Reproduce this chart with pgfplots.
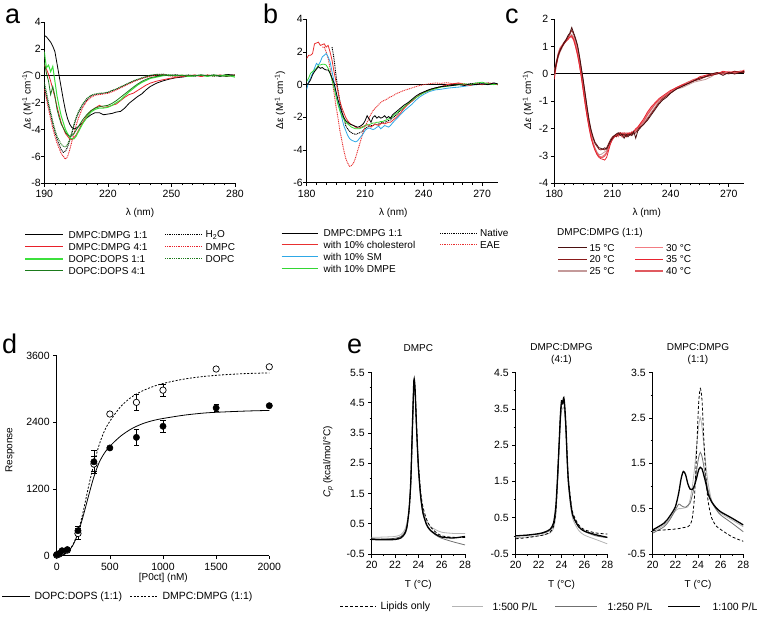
\documentclass[border=0pt]{standalone}
\usepackage{fontspec}
\setmainfont{Liberation Sans}
\usepackage{pgfplots}
\usepackage{pgfplotstable}
\pgfplotsset{compat=1.18}

\definecolor{aRed}{HTML}{E8202A}
\definecolor{aLime}{HTML}{3CE03C}
\definecolor{aDkGreen}{HTML}{1B7A1B}
\definecolor{bRed}{HTML}{E83030}
\definecolor{bBlue}{HTML}{2EA8E6}
\definecolor{bGreen}{HTML}{33D633}
\definecolor{cA}{HTML}{4A1010}
\definecolor{cB}{HTML}{8B1A1A}
\definecolor{cC}{HTML}{C49A9A}
\definecolor{cD}{HTML}{F27C82}
\definecolor{cE}{HTML}{E8232F}
\definecolor{cF}{HTML}{E05A60}
\definecolor{eLight}{HTML}{B4B4B4}
\definecolor{eMid}{HTML}{707070}

\newcommand{\lgf}{\fontsize{10}{12}\selectfont}
\newcommand{\lgdf}{\fontsize{10.5}{12}\selectfont}
\newcommand{\panelfont}{\fontsize{27}{30}\selectfont}

\pgfplotstableread{
x k11 r41 g11 g41 h2o dmpc dopc
190 3.0 0.8 1.8 1.0 -0.8 -1.0 -0.5
191 2.9 0.5 0.6 0.2 -1.5 -1.7 -1.2
192 2.7 0.1 0.8 -0.4 -2.2 -2.5 -2.0
193 2.5 -0.4 0.3 -1.4 -2.9 -3.2 -2.7
194 2.2 -1.0 0.7 -0.8 -3.6 -3.9 -3.4
195 1.8 -1.6 -0.4 -1.5 -4.2 -4.5 -4.0
196 0.9 -2.3 -1.5 -2.5 -4.7 -5.0 -4.5
197 0.0 -2.9 -2.3 -3.1 -5.1 -5.4 -4.8
198 -0.9 -3.5 -3.0 -3.6 -5.5 -5.8 -5.1
199 -1.8 -3.9 -3.5 -3.9 -5.7 -6.0 -5.25
200 -2.6 -4.3 -4.0 -4.2 -5.6 -6.2 -5.3
201 -3.2 -4.5 -4.3 -4.4 -5.3 -6.0 -5.1
202 -3.6 -4.7 -4.6 -4.5 -4.8 -5.5 -4.7
203 -3.85 -4.75 -4.7 -4.45 -4.3 -4.9 -4.2
204 -3.95 -4.6 -4.7 -4.3 -3.7 -4.3 -3.6
205 -3.9 -4.4 -4.5 -4.05 -3.2 -3.7 -3.1
206 -3.8 -4.1 -4.2 -3.8 -2.8 -3.2 -2.7
208 -3.5 -3.5 -3.6 -3.3 -2.2 -2.4 -2.1
210 -3.15 -3.0 -3.1 -2.9 -1.8 -1.9 -1.7
212 -2.9 -2.6 -2.7 -2.6 -1.5 -1.6 -1.45
214 -2.75 -2.4 -2.5 -2.4 -1.4 -1.45 -1.35
216 -2.75 -2.2 -2.4 -2.3 -1.35 -1.4 -1.3
218 -2.9 -2.35 -2.4 -2.25 -1.3 -1.35 -1.28
220 -2.85 -2.3 -2.35 -2.2 -1.25 -1.3 -1.22
222 -2.8 -2.2 -2.2 -2.05 -1.1 -1.2 -1.1
224 -2.7 -2.1 -2.0 -1.85 -1.0 -1.05 -0.98
226 -2.65 -1.85 -1.8 -1.6 -0.85 -0.9 -0.82
228 -2.4 -1.6 -1.5 -1.35 -0.7 -0.75 -0.68
230 -2.05 -1.4 -1.2 -1.1 -0.55 -0.6 -0.52
232 -1.8 -1.3 -0.95 -0.85 -0.4 -0.45 -0.38
234 -1.55 -1.1 -0.7 -0.62 -0.3 -0.32 -0.26
236 -1.35 -0.9 -0.5 -0.42 -0.2 -0.2 -0.15
238 -1.05 -0.7 -0.35 -0.27 -0.1 -0.1 -0.05
240 -0.8 -0.55 -0.2 -0.15 0.0 -0.05 0.05
243 -0.55 -0.4 -0.1 -0.05 0.1 0.05 0.1
246 -0.38 -0.3 0.0 0.05 0.12 0.08 0.08
249 -0.25 -0.2 0.05 0.0 0.05 0.0 0.05
252 -0.15 -0.12 0.0 0.05 0.08 -0.05 0.0
255 -0.1 -0.05 0.05 0.0 0.0 0.05 0.03
258 -0.03 0.0 -0.05 0.05 0.05 0.0 -0.05
261 0.0 0.05 0.0 0.0 -0.03 0.05 0.05
264 0.05 -0.05 0.05 0.05 0.05 -0.05 0.0
267 0.0 0.05 -0.05 0.0 0.0 0.05 0.05
270 0.05 0.0 0.05 0.05 0.05 0.0 -0.05
273 -0.05 0.05 0.0 0.0 0.0 0.05 0.05
276 0.1 0.0 0.05 -0.05 0.05 -0.05 0.0
280 0.05 0.05 -0.1 0.05 0.0 0.05 0.0
}\tabA

\pgfplotstableread{
x k chol sm dmpe nat eae
180 0.0 1.6 -0.3 0.2 nan nan
181 0.1 1.8 0.2 0.4 nan nan
182 0.3 1.8 0.4 0.7 nan nan
183 0.6 1.9 0.7 0.8 nan nan
184 0.8 2.5 1.0 0.9 nan nan
185 0.95 2.55 1.3 1.0 nan nan
186 1.1 2.6 1.2 1.2 nan nan
187 1.0 2.4 1.4 1.2 nan nan
188 1.05 2.45 1.7 1.25 nan 2.3
189 0.95 2.5 1.8 1.25 nan 2.3
190 0.9 2.3 1.9 1.2 nan 2.0
191 0.9 2.4 1.7 1.0 nan 1.6
192 0.7 2.0 1.4 0.7 nan 1.0
193 0.4 1.5 0.8 0.3 2.3 0.3
194 0.1 0.8 0.2 -0.2 1.6 -0.5
195 -0.4 0.2 -0.5 -0.7 0.6 -1.3
196 -0.9 -0.4 -1.0 -1.2 -0.3 -2.0
197 -1.3 -1.0 -1.5 -1.6 -1.0 -2.8
198 -1.7 -1.4 -2.0 -1.9 -1.6 -3.4
199 -2.0 -1.7 -2.5 -2.1 -2.0 -4.0
200 -2.2 -2.0 -2.8 -2.3 -2.5 -4.5
201 -2.3 -2.2 -3.1 -2.4 -2.7 -4.8
202 -2.4 -2.35 -3.3 -2.5 -2.85 -5.0
203 -2.45 -2.45 -3.4 -2.6 -2.95 -4.95
204 -2.5 -2.5 -3.45 -2.65 -3.0 -4.8
205 -2.55 -2.6 -3.5 -2.7 -3.05 -4.5
206 -2.6 -2.65 -3.45 -2.7 -3.0 -4.1
207 -2.57 -2.65 -3.3 -2.7 -2.95 -3.7
208 -2.5 -2.6 -3.15 -2.65 -2.9 -3.3
209 -2.4 -2.55 -3.0 -2.6 -2.8 -2.9
210 -2.2 -2.5 -2.8 -2.5 -2.7 -2.55
211 -1.9 -2.45 -2.7 -2.45 -2.6 -2.3
212 -2.1 -2.5 -2.65 -2.45 -2.55 -2.05
213 -2.3 -2.6 -2.7 -2.4 -2.5 -1.8
214 -2.0 -2.5 -2.75 -2.35 -2.5 -1.6
215 -1.9 -2.4 -2.7 -2.35 -2.45 -1.45
216 -2.05 -2.45 -2.6 -2.3 -2.45 -1.35
217 -1.95 -2.5 -2.55 -2.3 -2.4 -1.2
218 -2.05 -2.4 -2.7 -2.25 -2.35 -1.1
219 -2.0 -2.35 -2.6 -2.25 -2.3 -1.0
220 -1.9 -2.4 -2.5 -2.2 -2.3 -0.95
221 -2.05 -2.35 -2.55 -2.15 -2.25 -0.9
222 -1.95 -2.3 -2.6 -2.1 -2.2 -0.8
223 -2.05 -2.3 -2.5 -2.05 -2.15 -0.75
224 -1.85 -2.2 -2.35 -1.95 -2.05 -0.7
226 -1.65 -2.0 -2.1 -1.75 -1.85 -0.55
228 -1.45 -1.75 -1.85 -1.55 -1.6 -0.45
230 -1.25 -1.45 -1.6 -1.35 -1.4 -0.35
232 -1.1 -1.2 -1.4 -1.15 -1.2 -0.28
234 -0.9 -1.0 -1.2 -0.95 -1.0 -0.2
236 -0.7 -0.8 -0.95 -0.8 -0.8 -0.12
238 -0.55 -0.62 -0.75 -0.65 -0.6 -0.05
240 -0.45 -0.5 -0.6 -0.5 -0.45 0.0
243 -0.3 -0.35 -0.42 -0.35 -0.3 0.05
246 -0.2 -0.22 -0.32 -0.25 -0.2 0.1
249 -0.12 -0.12 -0.28 -0.15 -0.12 0.08
252 -0.08 0.0 -0.22 -0.1 -0.05 0.12
255 -0.05 0.05 -0.18 -0.05 0.0 0.05
258 0.0 0.1 -0.15 0.0 0.05 0.1
261 -0.05 0.0 -0.1 0.05 0.0 0.05
264 0.05 -0.05 -0.05 0.0 0.05 0.0
267 0.0 0.05 0.0 0.1 0.1 0.05
270 0.05 0.0 0.05 0.15 0.05 0.0
273 0.0 0.1 0.0 0.05 0.1 0.05
276 0.1 0.05 0.1 0.0 0.05 0.1
278 0.05 0.0 0.05 0.05 0.0 0.05
}\tabB

\pgfplotstableread{
x t15 t20 t25 t30 t35 t40
180 0.0 0.05 -0.1 0.0 -0.2 0.1
181 0.4 0.35 0.3 0.45 0.3 0.4
182 0.7 0.65 0.6 0.7 0.65 0.75
183 0.85 0.9 0.8 0.9 0.85 0.95
184 1.0 1.0 0.95 1.0 1.0 1.05
185 1.15 1.1 1.1 1.15 1.1 1.15
186 1.25 1.2 1.2 1.2 1.2 1.25
187 1.4 1.35 1.3 1.3 1.25 1.3
188 1.5 1.45 1.4 1.35 1.35 1.35
189 1.7 1.6 1.45 1.4 1.4 1.35
190 1.5 1.45 1.35 1.3 1.25 1.25
191 1.3 1.25 1.15 1.1 1.0 1.0
192 1.05 1.0 0.85 0.8 0.7 0.7
193 0.65 0.6 0.45 0.4 0.3 0.35
194 0.2 0.15 0.0 -0.05 -0.15 -0.1
195 -0.25 -0.3 -0.5 -0.55 -0.65 -0.6
196 -0.75 -0.8 -1.0 -1.05 -1.15 -1.1
197 -1.25 -1.3 -1.45 -1.5 -1.6 -1.55
198 -1.7 -1.75 -1.85 -1.9 -2.0 -1.95
199 -2.05 -2.1 -2.2 -2.25 -2.35 -2.3
200 -2.3 -2.35 -2.5 -2.55 -2.6 -2.55
201 -2.5 -2.55 -2.7 -2.75 -2.8 -2.75
202 -2.6 -2.65 -2.85 -2.9 -2.95 -2.9
203 -2.7 -2.75 -2.95 -3.0 -3.05 -3.0
204 -2.72 -2.78 -2.95 -3.05 -3.1 -3.05
205 -2.75 -2.75 -2.9 -3.0 -3.12 -3.05
206 -2.7 -2.78 -2.85 -2.95 -3.15 -3.0
207 -2.75 -2.7 -2.8 -2.85 -3.05 -2.9
208 -2.6 -2.55 -2.65 -2.7 -2.8 -2.7
209 -2.45 -2.4 -2.5 -2.5 -2.55 -2.5
210 -2.35 -2.3 -2.4 -2.35 -2.4 -2.35
211 -2.25 -2.25 -2.3 -2.3 -2.3 -2.3
212 -2.2 -2.3 -2.25 -2.2 -2.25 -2.2
213 -2.15 -2.2 -2.2 -2.3 -2.2 -2.25
214 -2.25 -2.15 -2.25 -2.2 -2.15 -2.2
215 -2.2 -2.25 -2.15 -2.15 -2.2 -2.3
216 -2.35 -2.2 -2.25 -2.25 -2.2 -2.15
217 -2.2 -2.3 -2.2 -2.15 -2.3 -2.2
218 -2.3 -2.2 -2.2 -2.2 -2.15 -2.25
219 -2.2 -2.25 -2.15 -2.25 -2.2 -2.15
220 -2.25 -2.15 -2.25 -2.1 -2.15 -2.2
221 -2.1 -2.2 -2.1 -2.15 -2.1 -2.1
222 -2.35 -2.15 -2.1 -2.05 -2.0 -2.05
223 -2.1 -2.05 -2.0 -1.95 -1.95 -2.0
224 -2.0 -1.95 -1.95 -1.85 -1.85 -1.9
226 -1.85 -1.85 -1.8 -1.7 -1.65 -1.75
228 -1.7 -1.65 -1.6 -1.45 -1.4 -1.5
230 -1.5 -1.45 -1.4 -1.25 -1.2 -1.3
232 -1.3 -1.25 -1.2 -1.1 -1.05 -1.1
234 -1.1 -1.05 -1.0 -0.95 -0.9 -0.95
236 -0.95 -0.9 -0.9 -0.85 -0.8 -0.85
238 -0.85 -0.8 -0.8 -0.75 -0.7 -0.75
240 -0.7 -0.7 -0.65 -0.65 -0.6 -0.65
243 -0.55 -0.55 -0.55 -0.5 -0.5 -0.5
246 -0.45 -0.45 -0.5 -0.4 -0.4 -0.4
249 -0.35 -0.35 -0.4 -0.3 -0.35 -0.3
252 -0.25 -0.25 -0.3 -0.25 -0.25 -0.2
255 -0.15 -0.2 -0.25 -0.15 -0.1 -0.15
258 -0.1 -0.1 -0.2 -0.05 -0.05 -0.1
261 0.0 -0.05 -0.1 0.0 0.0 -0.05
264 0.05 0.0 0.05 0.05 0.0 0.05
267 -0.05 0.05 0.0 0.05 0.1 0.0
270 0.05 0.0 0.05 0.1 0.05 0.05
273 0.0 0.1 0.05 0.0 0.1 0.05
276 0.05 0.05 0.1 0.1 0.05 0.1
278 0.1 0.05 0.05 0.1 0.15 0.1
}\tabC

\pgfplotstableread{
x solid dotted
0 0 0
50 10 10
100 60 60
150 180 190
200 400 420
250 720 800
300 1080 1250
350 1420 1650
400 1680 2000
450 1850 2250
500 1970 2420
600 2150 2680
700 2280 2850
800 2370 2960
900 2430 3040
1000 2470 3100
1200 2530 3180
1400 2570 3230
1600 2590 3260
1800 2605 3280
2000 2615 3290
}\tabFit

\pgfplotstableread{
T lip p500 p250 p100
20 0.0 0.05 0.0 -0.02
21 -0.02 0.06 0.0 -0.03
22 0.0 0.08 0.02 -0.02
22.5 0.05 0.14 0.08 0.03
22.8 0.15 0.28 0.2 0.15
23.0 0.35 0.5 0.4 0.35
23.2 0.9 1.05 0.95 0.95
23.35 1.8 1.9 1.85 1.9
23.5 3.7 3.7 3.75 3.85
23.62 5.15 5.05 5.15 5.25
23.72 4.9 4.8 4.85 4.95
23.85 3.7 3.6 3.6 3.65
24.0 2.5 2.4 2.35 2.4
24.2 1.55 1.45 1.35 1.4
24.4 1.05 0.95 0.85 0.85
24.7 0.65 0.6 0.45 0.48
25.0 0.42 0.42 0.28 0.3
25.5 0.22 0.3 0.12 0.15
26.0 0.1 0.22 0.02 0.06
27.0 0.05 0.18 -0.1 0.03
28.0 0.05 0.18 -0.2 0.08
}\tabEa

\pgfplotstableread{
T lip p500 p250 p100
20 -0.08 -0.05 0.0 0.0
21 -0.05 -0.03 0.02 0.02
22 0.0 0.0 0.05 0.06
22.5 0.03 0.03 0.08 0.1
23.0 0.1 0.08 0.15 0.18
23.3 0.25 0.2 0.3 0.35
23.5 0.65 0.55 0.7 0.8
23.65 1.5 1.35 1.55 1.6
23.8 2.6 2.4 2.55 2.6
23.9 3.25 3.05 3.2 3.3
24.0 3.65 3.45 3.6 3.72
24.1 3.65 3.5 3.62 3.68
24.2 3.72 3.55 3.7 3.81
24.3 3.45 3.3 3.4 3.5
24.4 2.9 2.7 2.8 2.9
24.5 2.15 1.95 2.05 2.1
24.6 1.6 1.4 1.5 1.5
24.8 1.0 0.8 0.9 0.9
25.0 0.62 0.45 0.55 0.55
25.5 0.3 0.15 0.25 0.25
26.0 0.17 0.02 0.12 0.13
27.0 0.08 -0.1 0.0 0.03
28.0 0.05 -0.22 -0.05 -0.04
}\tabEb

\pgfplotstableread{
T lip p500 p250 p100
20 0.02 -0.01 -0.04 0.03
21 0.03 0.14 0.1 0.18
21.5 0.04 0.28 0.25 0.33
22 0.05 0.45 0.47 0.54
22.3 0.06 0.5 0.6 0.85
22.5 0.07 0.5 0.57 1.15
22.7 0.08 0.51 0.54 1.32
22.9 0.09 0.52 0.53 1.25
23.1 0.1 0.54 0.57 1.05
23.3 0.14 0.7 0.62 0.93
23.5 0.3 0.99 0.8 0.92
23.7 0.8 1.4 1.02 1.02
23.9 1.9 1.94 1.38 1.2
24.05 2.8 2.3 1.62 1.35
24.2 3.15 2.51 1.74 1.41
24.35 2.9 2.3 1.65 1.38
24.5 2.1 1.94 1.45 1.25
24.7 1.2 1.45 1.15 1.05
24.9 0.65 1.05 0.9 0.82
25.2 0.3 0.69 0.65 0.65
25.6 0.12 0.5 0.48 0.52
26 0.04 0.4 0.36 0.43
27 -0.12 0.25 0.18 0.29
28 -0.22 0.1 -0.01 0.14
}\tabEc

\pgfplotsset{
  base/.style={scale only axis, anchor=south west, axis lines=left,
    axis line style={-, line width=0.7pt, black},
    tick align=outside, major tick length=3.5pt, minor tick length=2pt,
    tick style={black, line width=0.6pt},
    tick label style={font=\fontsize{10.5}{12}\selectfont},
    /pgf/number format/assume math mode=true,
    /pgf/number format/1000 sep={}},
  cdline/.style={line width=0.8pt, no marks},
  cddot/.style={line width=0.9pt, no marks, dash pattern=on 1pt off 0.8pt},
  eax/.style={base, width=92pt, height=181.5pt, xmin=20, xmax=28, ymin=-0.5,
    xtick={20,22,...,28}, minor xtick={21,23,25,27},
    yticklabel style={/pgf/number format/.cd, fixed, fixed zerofill, precision=1}},
  eline/.style={line width=0.8pt, no marks, smooth, tension=0.45},
}

\begin{document}
\begin{tikzpicture}[x=1pt,y=1pt]
\path[use as bounding box] (0,0) rectangle (760,616);

% ---------- panel a ----------
\begin{axis}[base, at={(44.3pt,432.7pt)}, width=190.7pt, height=161.3pt,
  xmin=190, xmax=280, ymin=-8, ymax=4, xtick={190,220,250,280},
  minor x tick num=5, ytick={-8,-6,...,4}, yticklabel style={xshift=3.5pt}]
\addplot[black, line width=1pt] coordinates {(190,0) (280,0)};
\addplot[cddot, black] table[x=x,y=h2o]{\tabA};
\addplot[cddot, aRed] table[x=x,y=dmpc]{\tabA};
\addplot[cddot, aDkGreen] table[x=x,y=dopc]{\tabA};
\addplot[cdline, black] table[x=x,y=k11]{\tabA};
\addplot[cdline, aRed] table[x=x,y=r41]{\tabA};
\addplot[cdline, aLime, line width=1pt] table[x=x,y=g11]{\tabA};
\addplot[cdline, aDkGreen] table[x=x,y=g41]{\tabA};
\end{axis}

% ---------- panel b ----------
\begin{axis}[base, at={(306.7pt,433.3pt)}, width=191pt, height=163.4pt,
  xmin=180, xmax=278, ymin=-6, ymax=4, xtick={180,210,240,270},
  minor x tick num=5, ytick={-6,-4,...,4}, yticklabel style={xshift=3pt}]
\addplot[black, line width=1pt] coordinates {(180,0) (278,0)};
\addplot[cddot, black] table[x=x,y=nat]{\tabB};
\addplot[cddot, bRed] table[x=x,y=eae]{\tabB};
\addplot[cdline, bBlue] table[x=x,y=sm]{\tabB};
\addplot[cdline, bRed] table[x=x,y=chol]{\tabB};
\addplot[cdline, bGreen] table[x=x,y=dmpe]{\tabB};
\addplot[cdline, black] table[x=x,y=k]{\tabB};
\end{axis}

% ---------- panel c ----------
\begin{axis}[base, at={(554.3pt,432.7pt)}, width=190pt, height=164pt,
  xmin=180, xmax=278, ymin=-4, ymax=2, xtick={180,210,240,270},
  minor x tick num=5, ytick={-4,...,2}, yticklabel style={xshift=1pt}]
\addplot[black, line width=1pt] coordinates {(180,0) (278,0)};
\addplot[cdline, cC] table[x=x,y=t25]{\tabC};
\addplot[cdline, cD] table[x=x,y=t30]{\tabC};
\addplot[cdline, cF, line width=1.1pt] table[x=x,y=t40]{\tabC};
\addplot[cdline, cE] table[x=x,y=t35]{\tabC};
\addplot[cdline, cB] table[x=x,y=t20]{\tabC};
\addplot[cdline, cA] table[x=x,y=t15]{\tabC};
\end{axis}

% ---------- panel d ----------
\begin{axis}[base, at={(56.7pt,60.3pt)}, width=212.6pt, height=200pt,
  xmin=0, xmax=2000, ymin=0, ymax=3600, xtick={0,500,...,2000},
  ytick={0,1200,2400,3600}, clip=false]
\addplot[black, line width=0.8pt, no marks, smooth] table[x=x,y=solid]{\tabFit};
\addplot[black, line width=0.8pt, no marks, smooth, dash pattern=on 2pt off 1.6pt] table[x=x,y=dotted]{\tabFit};
\addplot[black, only marks, mark=*, mark size=3.2pt, mark options={fill=white, draw=black, line width=0.7pt},
  error bars/.cd, y dir=both, y explicit,
  error bar style={line width=0.7pt, black},
  error mark options={rotate=90, mark size=2.6pt, line width=0.7pt, black}]
  coordinates {(0,10) +- (0,10) (25,30) +- (0,10) (50,70) +- (0,15) (100,100) +- (0,15)
   (200,400) +- (0,100) (350,1650) +- (0,140) (500,2550) +- (0,20) (750,2760) +- (0,140)
   (1000,2980) +- (0,110) (1500,3360) +- (0,20) (2000,3400) +- (0,20)};
\addplot[black, only marks, mark=*, mark size=3.2pt, mark options={fill=black, draw=black},
  error bars/.cd, y dir=both, y explicit,
  error bar style={line width=0.7pt, black},
  error mark options={rotate=90, mark size=2.6pt, line width=0.7pt, black}]
  coordinates {(0,20) +- (0,10) (25,40) +- (0,20) (50,90) +- (0,20) (100,110) +- (0,20)
   (200,450) +- (0,80) (350,1690) +- (0,200) (500,1940) +- (0,20) (750,2130) +- (0,140)
   (1000,2330) +- (0,110) (1500,2660) +- (0,60) (2000,2700) +- (0,20)};
\end{axis}

% ---------- panel e ----------
\begin{axis}[eax, at={(371.7pt,62pt)}, width=93.3pt, ymax=5.5,
  ytick={-0.5,0.5,...,5.5}, minor ytick={0,1,...,5}]
\addplot[eline, eLight] table[x=T,y=p500]{\tabEa};
\addplot[eline, eMid] table[x=T,y=p250]{\tabEa};
\addplot[eline, black, dash pattern=on 3pt off 2pt] table[x=T,y=lip]{\tabEa};
\addplot[eline, black, line width=1.3pt] table[x=T,y=p100]{\tabEa};
\end{axis}
\begin{axis}[eax, at={(515.7pt,62pt)}, width=91.6pt, ymax=4.5,
  ytick={-0.5,0.5,...,4.5}, minor ytick={0,1,...,4}]
\addplot[eline, eLight] table[x=T,y=p500]{\tabEb};
\addplot[eline, eMid] table[x=T,y=p250]{\tabEb};
\addplot[eline, black, dash pattern=on 3pt off 2pt] table[x=T,y=lip]{\tabEb};
\addplot[eline, black, line width=1.3pt] table[x=T,y=p100]{\tabEb};
\end{axis}
\begin{axis}[eax, at={(652.7pt,62pt)}, width=90.6pt, ymax=3.5,
  ytick={-0.5,0.5,...,3.5}, minor ytick={0,1,...,3}]
\addplot[eline, eLight] table[x=T,y=p500]{\tabEc};
\addplot[eline, eMid] table[x=T,y=p250]{\tabEc};
\addplot[eline, black, dash pattern=on 3pt off 2pt] table[x=T,y=lip]{\tabEc};
\addplot[eline, black, line width=1.3pt] table[x=T,y=p100]{\tabEc};
\end{axis}

% ---------- panel letters ----------
\node[anchor=base west, font=\panelfont, inner sep=0] at (5,592.7) {a};
\node[anchor=base west, font=\panelfont, inner sep=0] at (263,592.7) {b};
\node[anchor=base west, font=\panelfont, inner sep=0] at (505,592.7) {c};
\node[anchor=base west, font=\panelfont, inner sep=0] at (2,262.7) {d};
\node[anchor=base west, font=\panelfont, inner sep=0] at (347,262.7) {e};

% ---------- axis labels ----------
\node[rotate=90, font=\lgf] at (27.5,516) {Δε (M\textsuperscript{-1} cm\textsuperscript{-1})};
\node[rotate=90, font=\lgf] at (280,516) {Δε (M\textsuperscript{-1} cm\textsuperscript{-1})};
\node[rotate=90, font=\lgf] at (528,516) {\textit{Δε} (M\textsuperscript{-1} cm\textsuperscript{-1})};
\node[font=\lgf] at (140,403) {λ (nm)};
\node[font=\lgf] at (393.3,402.7) {λ (nm)};
\node[font=\lgf] at (646.7,402.7) {λ (nm)};
\node[rotate=90, font=\lgf] at (10,166) {Response};
\node[font=\lgf] at (163.3,37.7) {[P0ct] (nM)};
\node[rotate=90, font=\lgf] at (328.3,154) {\textit{C}\textsubscript{\textit{p}} (kcal/mol/°C)};
\node[font=\lgf] at (418.3,31) {T (°C)};
\node[font=\lgf] at (561.5,31) {T (°C)};
\node[font=\lgf] at (698,31) {T (°C)};
\node[font=\lgf] at (418.3,268) {DMPC};
\node[font=\lgf] at (561.5,269) {DMPC:DMPG};
\node[font=\lgf] at (561.5,256.5) {(4:1)};
\node[font=\lgf] at (698,269) {DMPC:DMPG};
\node[font=\lgf] at (698,256.5) {(1:1)};

% ---------- legend a ----------
\draw[black, line width=1pt] (25,381) -- (63,381); \node[anchor=west, font=\lgf] at (65,381) {DMPC:DMPG 1:1};
\draw[aRed, line width=1pt] (25,369) -- (63,369); \node[anchor=west, font=\lgf] at (65,369) {DMPC:DMPG 4:1};
\draw[aLime, line width=1.2pt] (25,357) -- (63,357); \node[anchor=west, font=\lgf] at (65,357) {DOPC:DOPS 1:1};
\draw[aDkGreen, line width=1pt] (25,345) -- (63,345); \node[anchor=west, font=\lgf] at (65,345) {DOPC:DOPS 4:1};
\draw[black, line width=1pt, dash pattern=on 1pt off 0.8pt] (165,381) -- (202,381); \node[anchor=west, font=\lgf] at (202,381) {H\textsubscript{2}O};
\draw[aRed, line width=1pt, dash pattern=on 1pt off 0.8pt] (165,369) -- (202,369); \node[anchor=west, font=\lgf] at (202,369) {DMPC};
\draw[aDkGreen, line width=1pt, dash pattern=on 1pt off 0.8pt] (165,357) -- (202,357); \node[anchor=west, font=\lgf] at (202,357) {DOPC};

% ---------- legend b ----------
\draw[black, line width=1pt] (281.7,382.7) -- (318.3,382.7); \node[anchor=west, font=\lgf] at (320,382.7) {DMPC:DMPG 1:1};
\draw[bRed, line width=1pt] (281.7,371) -- (318.3,371); \node[anchor=west, font=\lgf] at (320,371) {with 10\% cholesterol};
\draw[bBlue, line width=1pt] (281.7,359) -- (318.3,359); \node[anchor=west, font=\lgf] at (320,359) {with 10\% SM};
\draw[bGreen, line width=1pt] (281.7,347) -- (318.3,347); \node[anchor=west, font=\lgf] at (320,347) {with 10\% DMPE};
\draw[black, line width=1pt, dash pattern=on 1pt off 0.8pt] (440,382.7) -- (476.7,382.7); \node[anchor=west, font=\lgf] at (476.5,382.7) {Native};
\draw[bRed, line width=1pt, dash pattern=on 1pt off 0.8pt] (440,371) -- (476.7,371); \node[anchor=west, font=\lgf] at (476.5,371) {EAE};

% ---------- legend c ----------
\node[anchor=west, font=\lgf, inner sep=0] at (557,382.7) {DMPC:DMPG (1:1)};
\draw[cA, line width=1pt] (558,368.3) -- (586.7,368.3); \node[anchor=west, font=\lgf] at (586,368.3) {15 °C};
\draw[cB, line width=1pt] (558,356.7) -- (586.7,356.7); \node[anchor=west, font=\lgf] at (586,356.7) {20 °C};
\draw[cC, line width=1.3pt] (558,345) -- (586.7,345); \node[anchor=west, font=\lgf] at (586,345) {25 °C};
\draw[cD, line width=1pt] (635,368.3) -- (663,368.3); \node[anchor=west, font=\lgf] at (662.5,368.3) {30 °C};
\draw[cE, line width=1pt] (635,356.7) -- (663,356.7); \node[anchor=west, font=\lgf] at (662.5,356.7) {35 °C};
\draw[cF, line width=1.5pt] (635,345) -- (663,345); \node[anchor=west, font=\lgf] at (662.5,345) {40 °C};

% ---------- legend d ----------
\draw[black, line width=0.8pt] (2,19.3) -- (30,19.3); \node[anchor=west, font=\lgdf] at (31,19.3) {DOPC:DOPS (1:1)};
\draw[black, line width=0.8pt, dash pattern=on 2pt off 1.6pt] (130,19.3) -- (158,19.3); \node[anchor=west, font=\lgdf] at (159,19.3) {DMPC:DMPG (1:1)};

% ---------- legend e ----------
\draw[black, line width=0.8pt, dash pattern=on 3pt off 2pt] (340,9.3) -- (376,9.3); \node[anchor=west, font=\lgdf] at (377,9.3) {Lipids only};
\draw[eLight, line width=0.8pt] (452,9.3) -- (483,9.3); \node[anchor=west, font=\lgdf] at (489,9.3) {1:500 P/L};
\draw[eMid, line width=0.8pt] (555,9.3) -- (597,9.3); \node[anchor=west, font=\lgdf] at (604,9.3) {1:250 P/L};
\draw[black, line width=1.3pt] (668,9.3) -- (700,9.3); \node[anchor=west, font=\lgdf] at (709,9.3) {1:100 P/L};
\end{tikzpicture}
\end{document}
